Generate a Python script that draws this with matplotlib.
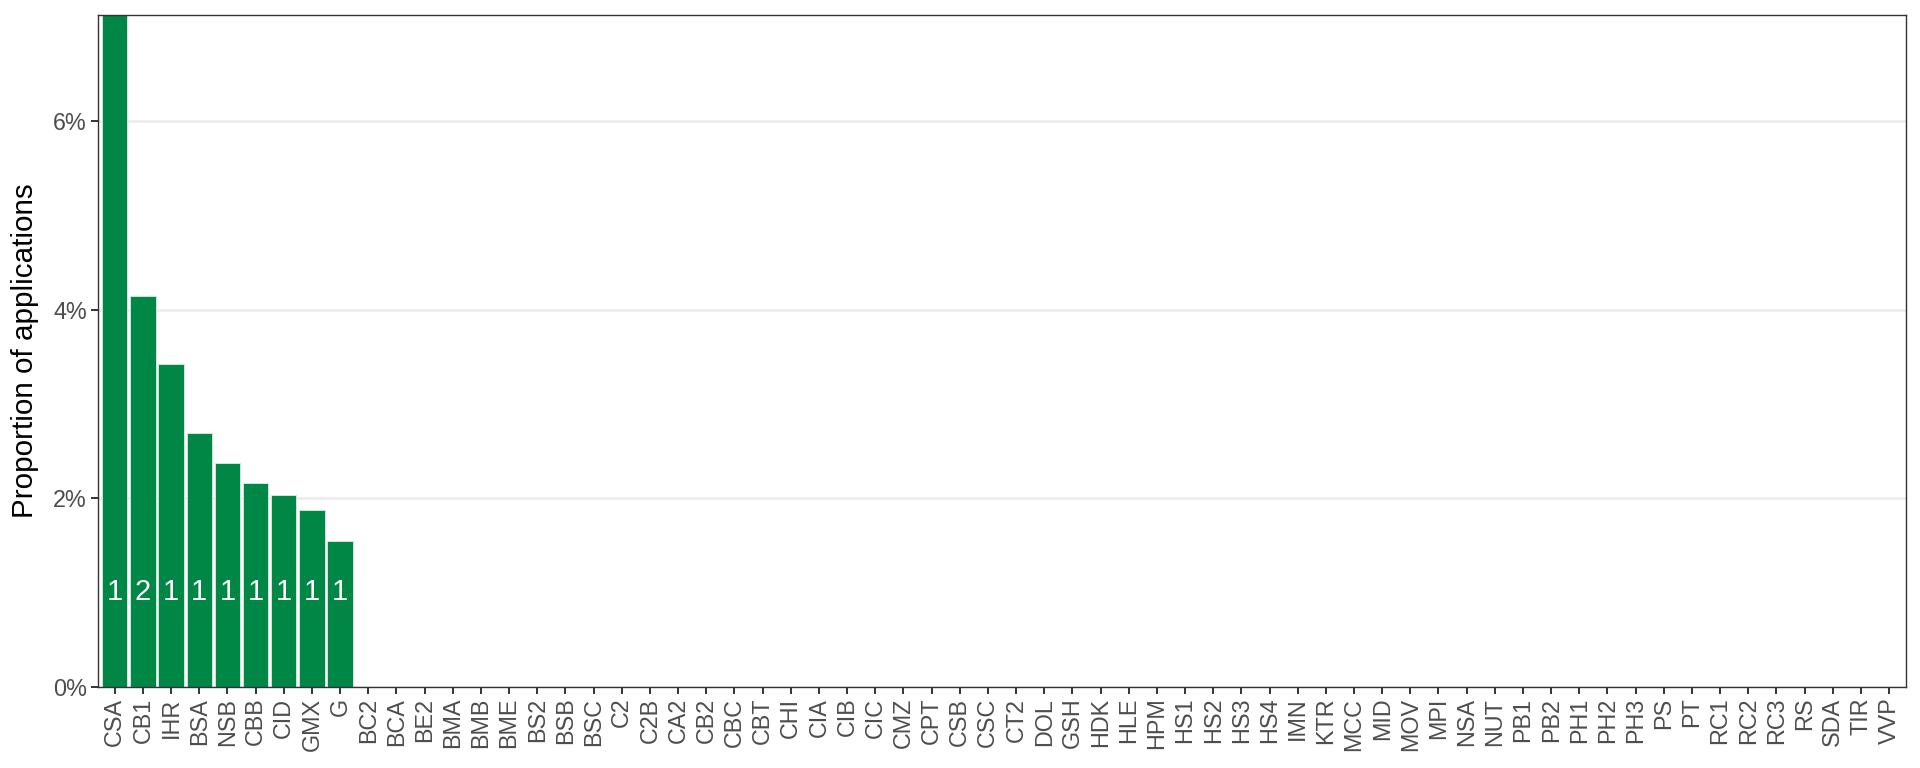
import matplotlib
matplotlib.use("Agg")
import matplotlib.pyplot as plt
from matplotlib.ticker import FuncFormatter

plt.rcParams['font.family'] = ['Liberation Sans', 'DejaVu Sans']

# categories in plotted order
categories = ["CSA", "CB1", "IHR", "BSA", "NSB", "CBB", "CID", "GMX", "G",
              "BC2", "BCA", "BE2", "BMA", "BMB", "BME", "BS2", "BSB", "BSC",
              "C2", "C2B", "CA2", "CB2", "CBC", "CBT", "CHI", "CIA", "CIB",
              "CIC", "CMZ", "CPT", "CSB", "CSC", "CT2", "DOL", "GSH", "HDK",
              "HLE", "HPM", "HS1", "HS2", "HS3", "HS4", "IMN", "KTR", "MCC",
              "MID", "MOV", "MPI", "NSA", "NUT", "PB1", "PB2", "PH1", "PH2",
              "PH3", "PS", "PT", "RC1", "RC2", "RC3", "RS", "SDA", "TIR", "VVP"]

# proportion of applications (%), first bar runs past the top of the panel
top_values = [7.8, 4.15, 3.43, 2.69, 2.37, 2.16, 2.03, 1.87, 1.55]
values = top_values + [0.0] * (len(categories) - len(top_values))

# counts written inside the bars
counts = [1, 2, 1, 1, 1, 1, 1, 1, 1]

green = "#008745"

fig = plt.figure(figsize=(19.2, 7.68), dpi=100)
ax = fig.add_axes([0.051, 0.106, 0.9417, 0.8745])

x = list(range(len(categories)))
ax.bar(x, values, width=0.9, color=green, edgecolor="#d9eee2", linewidth=0.6, zorder=2)

for i, c in enumerate(counts):
    ax.text(i, 1.0, str(c), ha="center", va="center", color="white",
            fontsize=21, zorder=3)

ax.set_xlim(-0.6, len(categories) - 0.4)
ax.set_ylim(0, 7.13)
ax.set_yticks([0, 2, 4, 6])
ax.yaxis.set_major_formatter(FuncFormatter(lambda v, p: f"{v:.0f}%"))
ax.set_xticks(x)
ax.set_xticklabels(categories, rotation=90)

ax.yaxis.grid(True, color="#ebebeb", linewidth=1.8, zorder=0)
ax.xaxis.grid(False)
ax.set_axisbelow(True)

for s in ax.spines.values():
    s.set_color("#333333")
    s.set_linewidth(1.0)

ax.tick_params(axis="both", colors="#333333", length=5, width=1.4,
               labelsize=16.8, labelcolor="#4d4d4d", pad=3)

ax.set_ylabel("Proportion of applications", fontsize=21.3, color="black", labelpad=10)

fig.savefig("out.png", dpi=100)
